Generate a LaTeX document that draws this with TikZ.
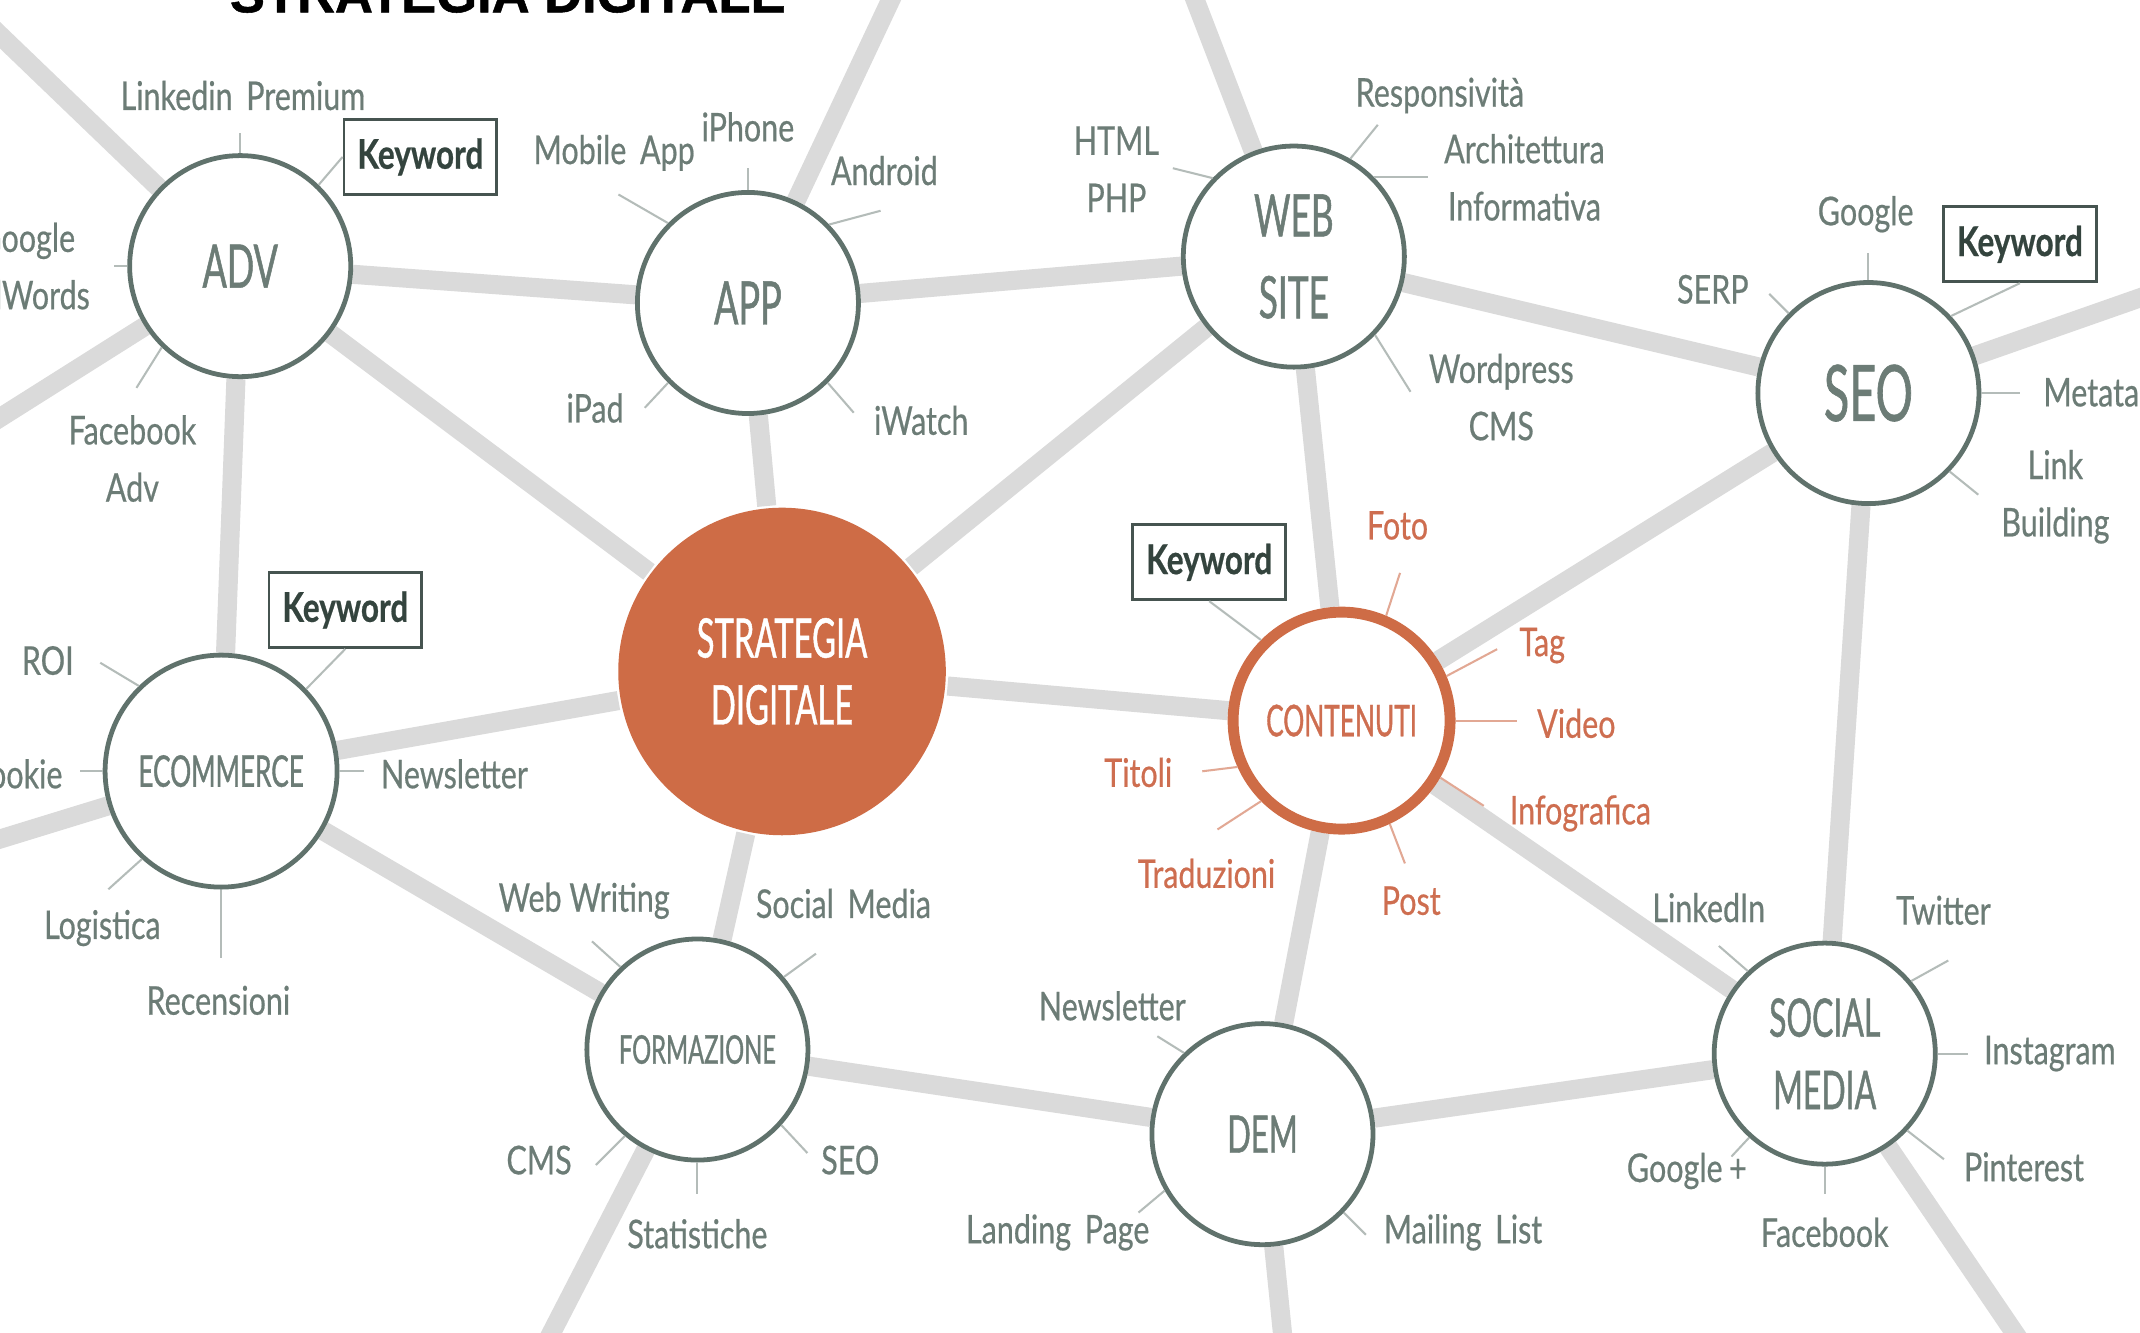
\documentclass[tikz,border=0pt]{standalone}
\usepackage{fontspec}
\newfontfamily\gs[FakeStretch=0.77,FakeBold=0.5]{Lato}
\newfontfamily\gh[FakeStretch=0.6,FakeBold=0.8]{Lato}
\newfontfamily\titlefont[FakeBold=1]{Liberation Sans}
\usetikzlibrary{backgrounds}
\definecolor{txt}{RGB}{108,124,118}
\definecolor{ring}{RGB}{96,114,108}
\definecolor{band}{RGB}{218,218,218}
\definecolor{orng}{RGB}{206,108,70}
\definecolor{otxt}{RGB}{206,110,80}
\definecolor{kwtxt}{RGB}{52,68,62}
\definecolor{kwline}{RGB}{70,84,80}
\definecolor{tickc}{RGB}{180,188,185}
\definecolor{otick}{RGB}{226,168,148}
\newcommand\hubfont[2]{\gh\fontsize{#1}{#2}\selectfont}
\newcommand\gap{\hspace{10pt}}
\tikzset{
  hub/.style={circle, draw=ring, line width=3.5pt, fill=white, inner sep=0pt, minimum size=162pt, text=txt, align=center},
  lbl/.style={text=txt, font=\gs\fontsize{29}{42}\selectfont, align=center, inner sep=0pt},
  olbl/.style={lbl, text=otxt},
  kwbox/.style={draw=kwline, line width=2pt, fill=white, text=kwtxt, font=\gs\bfseries\fontsize{30}{30}\selectfont, minimum width=112pt, minimum height=55pt, inner sep=0pt},
  bandline/.style={draw=band, line width=14pt},
  tk/.style={draw=tickc, line width=1.5pt},
  otk/.style={draw=otick, line width=1.5pt},
}
\begin{document}
\begin{tikzpicture}[x=1pt,y=1pt]
\useasboundingbox (0,0) rectangle (1568,-976);
% title
\node[font=\titlefont\bfseries\fontsize{38.5}{40}\selectfont, anchor=base, inner sep=0pt] (title) at (372,-9) {STRATEGIA DIGITALE};
% hubs
\node[hub, font=\hubfont{44}{60}] (adv) at (176,-195) {ADV};
\node[hub, font=\hubfont{44}{60}] (app) at (548,-222) {APP};
\node[hub, font=\hubfont{43}{60}] (web) at (948,-188) {WEB\\SITE};
\node[hub, font=\hubfont{57}{60}] (seo) at (1369,-288) {SEO};
\node[hub, draw=none, fill=orng, minimum size=240pt, text=white, font=\hubfont{40}{49}] (strat) at (573,-492) {STRATEGIA\\DIGITALE};
\node[hub, draw=orng, line width=8pt, minimum size=159pt, text=otxt, font=\hubfont{32}{40}] (cont) at (983,-528) {CONTENUTI};
\node[hub, minimum size=170pt, font=\hubfont{32}{40}] (ecom) at (162,-565) {ECOMMERCE};
\node[hub, font=\hubfont{29}{40}] (form) at (511,-769) {FORMAZIONE};
\node[hub, font=\hubfont{38}{40}] (dem) at (925,-831) {DEM};
\node[hub, font=\hubfont{39}{53}] (soc) at (1337,-772) {SOCIAL\\MEDIA};
% keyword boxes
\node[kwbox] (kwA) at (308,-115) {Keyword};
\node[kwbox] (kwB) at (1480,-179) {Keyword};
\node[kwbox] (kwC) at (886,-412) {Keyword};
\node[kwbox] (kwD) at (253,-447) {Keyword};
% labels
\node[lbl] (adv1) at (178,-70) {Linkedin\gap Premium};
\node[lbl] (adv2) at (20,-195) {Google\\AdWords};
\node[lbl] (adv3) at (97,-336) {Facebook\\Adv};
\node[lbl] (app1) at (450,-112) {Mobile\gap App};
\node[lbl] (app2) at (548,-93) {iPhone};
\node[lbl] (app3) at (648,-125) {Android};
\node[lbl] (app4) at (436,-299) {iPad};
\node[lbl] (app5) at (675,-308) {iWatch};
\node[lbl] (web1) at (818,-124) {HTML\\PHP};
\node[lbl] (web2) at (1055,-70) {Responsività};
\node[lbl] (web3) at (1117,-130) {Architettura\\Informativa};
\node[lbl] (web4) at (1100,-291) {Wordpress\\CMS};
\node[lbl] (seo1) at (1367,-157) {Google};
\node[lbl] (seo2) at (1255,-212) {SERP};
\node[lbl, anchor=west] (seo3) at (1497,-290) {Metatag};
\node[lbl] (seo4) at (1506,-364) {Link\\Building};
\node[olbl] (cont1) at (1024,-385) {Foto};
\node[olbl] (cont2) at (1130,-473) {Tag};
\node[olbl] (cont3) at (1155,-530) {Video};
\node[olbl] (cont4) at (1158,-596) {Infografica};
\node[olbl] (cont5) at (1034,-660) {Post};
\node[olbl] (cont6) at (834,-566) {Titoli};
\node[olbl] (cont7) at (884,-640) {Traduzioni};
\node[lbl] (ecom1) at (35,-484) {ROI};
\node[lbl, anchor=east] (ecom2) at (46,-567) {Cookie};
\node[lbl] (ecom3) at (333,-567) {Newsletter};
\node[lbl] (ecom4) at (75,-680) {Logistica};
\node[lbl] (ecom5) at (160,-733) {Recensioni};
\node[lbl] (form1) at (428,-660) {Web Writing};
\node[lbl] (form2) at (618,-662) {Social\gap Media};
\node[lbl] (form3) at (395,-850) {CMS};
\node[lbl] (form4) at (623,-850) {SEO};
\node[lbl] (form5) at (511,-904) {Statistiche};
\node[lbl] (dem1) at (815,-737) {Newsletter};
\node[lbl] (dem2) at (775,-903) {Landing\gap Page};
\node[lbl] (dem3) at (1072,-903) {Mailing\gap List};
\node[lbl] (soc1) at (1252,-665) {LinkedIn};
\node[lbl] (soc2) at (1424,-667) {Twitter};
\node[lbl] (soc3) at (1502,-772) {Instagram};
\node[lbl] (soc4) at (1483,-855) {Pinterest};
\node[lbl] (soc5) at (1337,-903) {Facebook};
\node[lbl] (soc6) at (1236,-858) {Google\,+};
% ticks
\draw[tk] (adv.90) -- ++(90:15);
\draw[tk] (adv.46) -- (kwA.west);
\draw[tk] (adv.180) -- ++(180:10);
\draw[tk] (adv.226) -- ++(238:35);
\draw[tk] (app.135) -- ++(150:42);
\draw[tk] (app.90) -- ++(90:16);
\draw[tk] (app.44) -- ++(15:39);
\draw[tk] (app.225) -- ++(227:25);
\draw[tk] (app.315) -- ++(311:29);
\draw[tk] (web.136) -- ++(166:30);
\draw[tk] (web.60) -- ++(51:32);
\draw[tk] (web.45) -- ++(0:40);
\draw[tk] (web.316) -- ++(302:49);
\draw[tk] (seo.90) -- ++(90:20);
\draw[tk] (seo.43) -- (kwB.south);
\draw[tk] (seo.135) -- ++(135:20);
\draw[tk] (seo.0) -- ++(0:28);
\draw[tk] (seo.316) -- ++(321:27);
\draw[tk] (cont.135) -- (kwC.south);
\draw[otk] (cont.67) -- ++(72:33);
\draw[otk] (cont.23) -- ++(28:42);
\draw[otk] (cont.0) -- ++(0:45);
\draw[otk] (cont.330) -- ++(327:38);
\draw[otk] (cont.295) -- ++(291:31);
\draw[otk] (cont.204) -- ++(187:26);
\draw[otk] (cont.225) -- ++(213:38);
\draw[tk] (ecom.44) -- (kwD.south);
\draw[tk] (ecom.134) -- ++(149:33);
\draw[tk] (ecom.180) -- ++(180:17);
\draw[tk] (ecom.0) -- ++(0:18);
\draw[tk] (ecom.228) -- ++(222:33);
\draw[tk] (ecom.270) -- ++(270:50);
\draw[tk] (form.133) -- ++(138:28);
\draw[tk] (form.40) -- ++(36:29);
\draw[tk] (form.230) -- ++(225:30);
\draw[tk] (form.318) -- ++(313:28);
\draw[tk] (form.270) -- ++(270:23);
\draw[tk] (dem.134) -- ++(148:23);
\draw[tk] (dem.210) -- ++(220:25);
\draw[tk] (dem.316) -- ++(315:23);
\draw[tk] (soc.133) -- ++(139:28);
\draw[tk] (soc.40) -- ++(29:31);
\draw[tk] (soc.0) -- ++(0:22);
\draw[tk] (soc.317) -- ++(322:34);
\draw[tk] (soc.270) -- ++(270:20);
\draw[tk] (soc.228) -- ++(227:19);
% bands
\begin{scope}[on background layer]
  \fill[white] (0,0) rectangle (1568,-976);
  \coordinate (e1) at (-30,3);
  \coordinate (e2) at (-30,-325);
  \coordinate (e3) at (662,20);
  \coordinate (e4) at (868,20);
  \coordinate (e5) at (1600,-207);
  \coordinate (e6) at (-30,-624);
  \coordinate (e7) at (392,-1000);
  \coordinate (e8) at (942,-1000);
  \coordinate (e9) at (1492,-1000);
  \draw[bandline] (adv) -- (e1);
  \draw[bandline] (adv) -- (e2);
  \draw[bandline] (app) -- (e3);
  \draw[bandline] (web) -- (e4);
  \draw[bandline] (seo) -- (e5);
  \draw[bandline] (ecom) -- (e6);
  \draw[bandline] (form) -- (e7);
  \draw[bandline] (dem) -- (e8);
  \draw[bandline] (soc) -- (e9);
  \draw[bandline] (adv) -- (app);
  \draw[bandline] (adv) -- (strat);
  \draw[bandline] (adv) -- (ecom);
  \draw[bandline] (app) -- (web);
  \draw[bandline] (app) -- (strat);
  \draw[bandline] (web) -- (strat);
  \draw[bandline] (web) -- (seo);
  \draw[bandline] (web) -- (cont);
  \draw[bandline] (seo) -- (cont);
  \draw[bandline] (seo) -- (soc);
  \draw[bandline] (strat) -- (ecom);
  \draw[bandline] (strat) -- (cont);
  \draw[bandline] (strat) -- (form);
  \draw[bandline] (ecom) -- (form);
  \draw[bandline] (form) -- (dem);
  \draw[bandline] (cont) -- (dem);
  \draw[bandline] (cont) -- (soc);
  \draw[bandline] (dem) -- (soc);
\end{scope}
\end{tikzpicture}
\end{document}
